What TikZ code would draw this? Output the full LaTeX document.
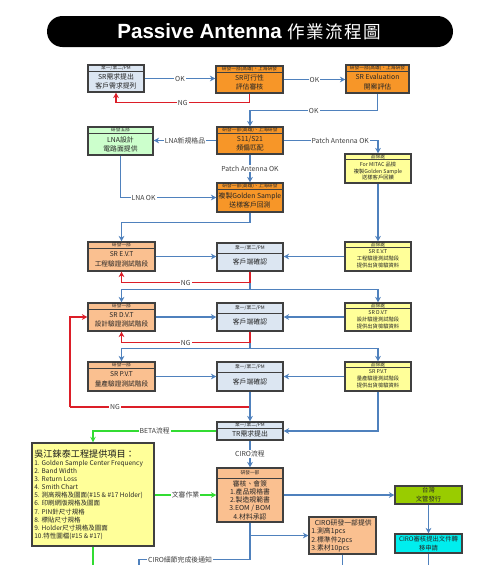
\documentclass[tikz,border=0pt]{standalone}
\usepackage{fontspec}
\setmainfont{Noto Sans CJK TC}
\newfontfamily\titlelatin{Liberation Sans}
\newfontfamily\cjktitle{Noto Sans CJK TC}
\usetikzlibrary{arrows.meta,fit}
\definecolor{orfill}{RGB}{247,150,40}
\definecolor{pcfill}{RGB}{250,192,144}
\definecolor{grfill}{RGB}{204,255,204}
\definecolor{ylfill}{RGB}{255,255,153}
\definecolor{pmfill}{RGB}{220,230,242}
\definecolor{olfill}{RGB}{153,204,0}
\definecolor{cyfill}{RGB}{0,238,238}
\definecolor{bline}{RGB}{79,129,189}
\definecolor{rline}{RGB}{220,30,40}
\definecolor{gline}{RGB}{50,220,50}
\definecolor{border}{RGB}{64,64,64}
\newcommand\mkhbox[9]{%
  \node[#2, fit={(#3,#4) (#5,#6)}] (#1) {};
  \draw[hdrline] ({#3},{#4+#7}) -- ({#5},{#4+#7});
  \node[hdrtxt] (#1-h) at ({(#3+#5)/2},{#4+#7/2}) {#8};
  \node[#2t] (#1-b) at ({(#3+#5)/2},{(#4+#7+#6)/2}) {#9};
}
\newcommand\mkpbox[7]{%
  \node[#2, fit={(#3,#4) (#5,#6)}] (#1) {};
  \node[#2t] (#1-b) at ({(#3+#5)/2},{(#4+#6)/2}) {#7};
}
\begin{document}
\begin{tikzpicture}[x=0.02cm,y=-0.02cm,
  basebox/.style={draw=border, line width=0.6pt, inner sep=0pt},
  pmbox/.style={basebox, fill=pmfill},
  orbox/.style={basebox, fill=orfill},
  pcbox/.style={basebox, fill=pcfill},
  pcbbox/.style={basebox, fill=pcfill},
  grbox/.style={basebox, fill=grfill},
  ylbox/.style={basebox, fill=ylfill},
  olbox/.style={basebox, fill=olfill},
  cybox/.style={basebox, fill=cyfill},
  txtbase/.style={inner sep=0pt, align=center, text=black!85},
  pmboxt/.style={txtbase, font=\fontsize{3.9}{4.8}\selectfont},
  orboxt/.style={txtbase, font=\fontsize{3.9}{5.2}\selectfont},
  pcboxt/.style={txtbase, font=\fontsize{3.8}{5.4}\selectfont},
  pcbboxt/.style={txtbase, font=\fontsize{3.9}{4.7}\selectfont},
  grboxt/.style={txtbase, font=\fontsize{3.9}{5.1}\selectfont},
  ylboxt/.style={txtbase, font=\fontsize{3}{3.9}\selectfont},
  olboxt/.style={txtbase, font=\fontsize{3.6}{5.2}\selectfont},
  cyboxt/.style={txtbase, font=\fontsize{3.6}{5}\selectfont},
  hdrtxt/.style={inner sep=0pt, font=\fontsize{2.7}{3}\selectfont, text=black!85},
  hdrline/.style={draw=border, line width=0.5pt},
  bl/.style={draw=bline, line width=0.8pt},
  rd/.style={draw=rline, line width=0.8pt},
  gr/.style={draw=gline, line width=0.9pt},
  tip/.style={-{Stealth[length=3.2pt,width=3.2pt]}},
  lbl/.style={fill=white, inner sep=0.6pt, font=\fontsize{3.9}{4}\selectfont, text=black!75}
]
\useasboundingbox (0,0) rectangle (500,565);
\fill[white] (0,0) rectangle (500,565);

% title
\node[fill=black, rounded corners=0.31cm, inner sep=0pt, fit={(47,16) (453,47)}] (titlebar) {};
\node[text=white, inner sep=0pt] (title) at (249,31.5)
  {{\titlelatin\bfseries\fontsize{11.7}{12}\selectfont Passive Antenna}\hspace{3pt}{\cjktitle\fontsize{10}{12}\selectfont 作\hspace{0.8pt}業\hspace{0.8pt}流\hspace{0.8pt}程\hspace{0.8pt}圖}};

% boxes
\mkhbox{A}{pmbox}{88}{65}{144}{92}{6}{業一/業二/PM}{SR需求提出\\客戶需求提列}
\mkhbox{B}{orbox}{216}{66}{283}{93}{6}{研發一部(高雄)、上海研發}{SR可行性\\評估審核}
\mkhbox{C}{orbox}{346}{65}{409}{93}{6}{研發一部(高雄)、上海研發}{SR Evaluation\\開案評估}
\mkhbox{D}{orbox}{217}{127}{283}{154}{6}{研發一部(高雄)、上海研發}{S11/S21\\頻偏匹配}
\mkhbox{G}{grbox}{88}{127}{153}{155}{6}{研發五部}{LNA設計\\電路面提供}
\mkhbox{Y1}{ylbox}{345}{154}{411}{183}{5}{品保處}{For MITAC 品檢\\複製Golden Sample\\送樣客戶回饋}
\mkhbox{E}{orbox}{217}{183}{283}{212}{6}{研發一部(高雄)、上海研發}{複製Golden Sample\\送樣客戶回測}

\mkhbox{L1}{pcbox}{88}{242}{155}{271}{6}{研發一部}{SR E.V.T\\工程驗證測試階段}
\mkhbox{M1}{pmbox}{217}{243}{283}{271}{10}{業一/業二/PM}{客戶端確認}
\mkhbox{Y2}{ylbox}{345}{242}{411}{271}{5}{品保處}{SR E.V.T\\工程驗證測試階段\\提供出貨檢驗資料}

\mkhbox{L2}{pcbox}{88}{303}{155}{331}{6}{研發一部}{SR D.V.T\\設計驗證測試階段}
\mkhbox{M2}{pmbox}{217}{303}{283}{331}{10}{業一/業二/PM}{客戶端確認}
\mkhbox{Y3}{ylbox}{345}{303}{411}{331}{5}{品保處}{SR D.V.T\\設計驗證測試階段\\提供出貨檢驗資料}

\mkhbox{L3}{pcbox}{88}{362}{155}{391}{6}{研發一部}{SR P.V.T\\量產驗證測試階段}
\mkhbox{M3}{pmbox}{217}{362}{283}{391}{10}{業一/業二/PM}{客戶端確認}
\mkhbox{Y4}{ylbox}{345}{362}{411}{391}{5}{品保處}{SR P.V.T\\量產驗證測試階段\\提供出貨檢驗資料}

\mkhbox{TR}{pmbox}{217}{422}{283}{440}{6}{業一/業二/PM}{TR需求提出}
\mkhbox{O2}{pcbbox}{217}{468}{283}{522}{10}{研發一部}{審核、會簽\\1.產品規格書\\2.製造規範書\\3.EOM / BOM\\4.材料承認}

\mkpbox{OL}{olbox}{395}{486}{462}{504}{台灣\\文管發行}
\mkpbox{CY}{cybox}{395}{534}{462}{553}{CIRO審核提出文件轉\\移申請}

\node[pcbox, fit={(309,517) (376,554)}] (SO) {};
\node[inner sep=0pt, anchor=north west, align=left, text=black!85, font=\fontsize{3.9}{4.9}\selectfont] (SO-b) at (311,519)
  {\hspace*{2pt}CIRO研發一部提供\\1.測高1pcs\\2.標準件2pcs\\3.素材10pcs};

\node[ylbox, line width=0.7pt, fit={(32,443) (154,546)}] (BIG) {};
\node[inner sep=0pt, anchor=west, text=black!90, font=\fontsize{5.2}{6}\selectfont] (BIG-t) at (34,454) {吳江錸泰工程提供項目：};
\node[inner sep=0pt, anchor=north west, align=left, text=black!85, font=\fontsize{3.7}{4.65}\selectfont] (BIG-b) at (34,459.5)
  {1. Golden Sample Center Frequency\\
   2. Band Width\\
   3. Return Loss\\
   4. Smith Chart\\
   5. 測高規格及圖面(\#15 \& \#17 Holder)\\
   6. 印刷網版規格及圖面\\
   7. PIN針尺寸規格\\
   8. 標貼尺寸規格\\
   9. Holder尺寸規格及圖面\\
   10.特性圖檔(\#15 \& \#17)};

% coordinates for free ends
\coordinate (c70) at (70,407);
\coordinate (n3) at (250,407);
\coordinate (bigend) at (93,565);
\coordinate (cyend) at (428.5,565);
\coordinate (soend) at (342.5,565);
\coordinate (ciroend) at (139,565);

% connectors row 1
\draw[bl,tip] (A.east) -- node[lbl]{OK} (A.east -| B.west);
\draw[bl,tip] (B.east) -- node[lbl]{OK} (B.east -| C.west);
\draw[rd,tip] (B.south) -- ++(0,9) -| node[lbl,pos=0.25]{NG} (A.south);
\draw[bl,tip] (C.south) -- ++(0,17) -| node[lbl,pos=0.25]{OK} (D.north);

% row 2
\draw[bl,tip] (D.west) -- node[lbl]{LNA新規格品} (D.west -| G.east);
\draw[bl,tip] (D.east) -| node[lbl,pos=0.3]{Patch Antenna OK} (Y1.north);
\draw[bl,tip] (D.south) -- node[lbl]{Patch Antenna OK} (E.north);
\draw[bl,tip] (G.south) |- node[lbl,pos=0.62]{LNA OK} (E.west);
\draw[bl,tip] (E.south) -- ++(0,10) -| (L1.north);
\draw[bl,tip] (Y1.south) -- (Y2.north);

% E.V.T row
\draw[bl,tip] (L1.east) -- (L1.east -| M1.west);
\draw[bl,tip] (Y2.west) -- (Y2.west -| M1.east);
\draw[bl] (M1.south) -- ++(0,18) coordinate (s1);
\draw[bl,tip] (s1) -| (L2.north);
\draw[bl,tip] (s1) -| (Y3.north);
\draw[rd,tip] (M1.south) -- ++(0,11) -| node[lbl,pos=0.25]{NG} (L1.south);

% D.V.T row
\draw[bl,tip] (L2.east) -- (L2.east -| M2.west);
\draw[bl,tip] (Y3.west) -- (Y3.west -| M2.east);
\draw[bl] (M2.south) -- ++(0,17) coordinate (s2);
\draw[bl,tip] (s2) -| (L3.north);
\draw[bl,tip] (s2) -| (Y4.north);
\draw[rd,tip] (M2.south) -- ++(0,11) -| node[lbl,pos=0.25]{NG} (L2.south);

% P.V.T row
\draw[bl,tip] (L3.east) -- (L3.east -| M3.west);
\draw[bl,tip] (Y4.west) -- (Y4.west -| M3.east);
\draw[rd] (n3) -- node[lbl,pos=0.75]{NG} (c70);
\draw[rd,tip] (c70) |- (L2.west);
\draw[bl,tip] (M3.south) -- (TR.north);
\draw[bl,tip] (Y4.south) |- (TR.east);

% bottom part
\draw[gr,tip] (TR.west) -| node[lbl,pos=0.25]{BETA流程} (BIG.north);
\draw[bl,tip] (TR.south) -- node[lbl]{CIRO流程} (O2.north);
\draw[gr,tip] (BIG.east |- O2.west) -- node[lbl]{文審作業} (O2.west);
\draw[gr] (BIG.south) -- (bigend);
\draw[bl,tip] (O2.east) -- (O2.east -| OL.west);
\draw[bl,tip] (OL.south) -- (CY.north);
\draw[bl] (CY.south) -- (cyend);
\draw[bl,tip] (O2.south) |- (SO.west);
\draw[bl] (SO.south) -- (soend);
\draw[bl] (O2.south) -- ++(0,37) -| node[lbl,pos=0.315]{CIRO細節完成後通知} (ciroend);
\end{tikzpicture}
\end{document}
